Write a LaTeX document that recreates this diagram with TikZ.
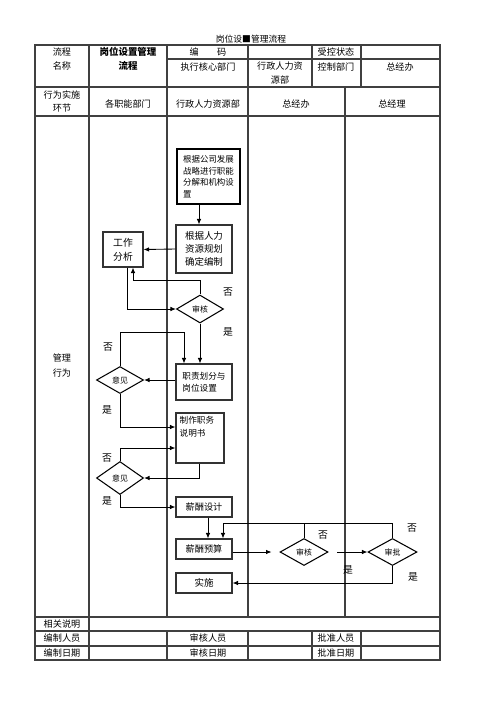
\documentclass[tikz,border=0pt]{standalone}
\usepackage{fontspec}
\setmainfont{Noto Sans CJK SC}
\usetikzlibrary{positioning,arrows.meta,shapes.geometric,calc}
\tikzset{
  gridline/.style={line width=0.6pt, black!75},
  flowline/.style={line width=0.5pt},
  flowarrow/.style={-{Latex[length=1.1mm,width=0.9mm]}, line width=0.5pt},
  procbox/.style={draw, line width=0.6pt, black!80, text=black, inner sep=1pt, align=center, minimum width=1.12cm, font=\fontsize{5.2}{7}\selectfont},
  keybox/.style={procbox, line width=1.6pt, black, align=left, font=\fontsize{4.8}{6.6}\selectfont},
  decnode/.style={draw, diamond, line width=0.6pt, inner sep=0pt, minimum width=0.94cm, minimum height=0.54cm, font=\fontsize{4.5}{5}\selectfont},
  tabtext/.style={inner sep=0pt, align=center, font=\fontsize{5.2}{8}\selectfont},
  yesno/.style={inner sep=0pt, font=\fontsize{5.6}{6}\selectfont}
}
\begin{document}
\begin{tikzpicture}[x=0.02cm, y=-0.02cm]
  \useasboundingbox (0,0) rectangle (500,707);
  % table frame
  \draw[gridline] (35,45) rectangle (440,660);
  \draw[gridline] (167,59) -- (440,59);
  \foreach \y in {87,116,617,631,646} \draw[gridline] (35,\y) -- (440,\y);
  \draw[gridline] (89,45) -- (89,660);
  \foreach \x in {167,248} {\draw[gridline] (\x,45) -- (\x,617); \draw[gridline] (\x,631) -- (\x,660);}
  \foreach \x in {312,361} {\draw[gridline] (\x,45) -- (\x,87); \draw[gridline] (\x,631) -- (\x,660);}
  \draw[gridline] (345,87) -- (345,617);
  % table texts
  \node[tabtext, font=\fontsize{5}{6}\selectfont] (title) at (251,39) {岗位设■管理流程};
  \node[tabtext] (lcmc) at (62,59) {流程\\名称};
  \node[tabtext, font=\bfseries\fontsize{5.4}{8}\selectfont] (lcname) at (128,59) {岗位设置管理\\流程};
  \node[tabtext] (bm) at (208,52) {编\hspace{2em}码};
  \node[tabtext] (skzt) at (336,52) {受控状态};
  \node[tabtext] (zxbm) at (208,67) {执行核心部门};
  \node[tabtext] (xzrl) at (280,73) {行政人力资\\源部};
  \node[tabtext] (kzbm) at (336,67) {控制部门};
  \node[tabtext] (zjb1) at (400,67) {总经办};
  \node[tabtext, font=\fontsize{5.2}{7}\selectfont] (xwss) at (62,101.5) {行为实施\\环节};
  \node[tabtext] (gznbm) at (128,104) {各职能部门};
  \node[tabtext] (xzrlb) at (208,104) {行政人力资源部};
  \node[tabtext] (zjb2) at (296,104) {总经办};
  \node[tabtext] (zjl) at (392,104) {总经理};
  \node[tabtext] (glxw) at (62,365.5) {管理\\行为};
  \node[tabtext] (xgsm) at (62,624) {相关说明};
  \node[tabtext] (bzry) at (62,638.5) {编制人员};
  \node[tabtext] (shry) at (208,638.5) {审核人员};
  \node[tabtext] (pzry) at (336,638.5) {批准人员};
  \node[tabtext] (bzrq) at (62,653) {编制日期};
  \node[tabtext] (shrq) at (208,653) {审核日期};
  \node[tabtext] (pzrq) at (336,653) {批准日期};
  % flow nodes
  \node[keybox, minimum width=1.26cm, minimum height=1.1cm] (fz) at (208.5,176.5) {根据公司发展\\战略进行职能\\分解和机构设\\置};
  \node[procbox, minimum height=0.96cm, font=\fontsize{5.4}{7.2}\selectfont] (bz) at (204,249) {根据人力\\资源规划\\确定编制};
  \node[procbox, minimum width=0.8cm, minimum height=0.7cm, font=\fontsize{5.6}{8}\selectfont] (gz) at (123,249.5) {工作\\分析};
  \node[decnode, minimum height=0.56cm] (sh1) at (200,309) {审核};
  \node[procbox, minimum height=0.72cm, align=left, font=\fontsize{4.9}{7}\selectfont] (zz) at (204,382) {职责划分与\\岗位设置};
  \node[decnode] (yj1) at (120,380) {意见};
  \node[procbox, minimum width=0.96cm, minimum height=1.0cm,
        label={[anchor=north west, align=left, inner sep=2.2pt, font=\fontsize{4.9}{7}\selectfont]north west:{制作职务\\说明书}}] (zm) at (200,438) {};
  \node[decnode, minimum height=0.66cm] (yj2) at (120,478) {意见};
  \node[procbox, minimum height=0.4cm] (xs) at (204,507) {薪酬设计};
  \node[procbox, minimum height=0.4cm] (xy) at (204,549) {薪酬预算};
  \node[procbox, minimum height=0.4cm, font=\fontsize{5.4}{7}\selectfont] (ss) at (204,583) {实施};
  \node[decnode, minimum width=0.96cm] (sh2) at (304,552) {审核};
  \node[decnode, minimum width=0.98cm] (sp) at (392.5,552) {审批};
  % connectors
  \draw[flowarrow] ($(fz.south)+(-9.5,0)$) -- ($(bz.north)+(-5,0)$);
  \draw[flowarrow] (bz.west) -- (gz.east);
  \draw[flowarrow] (sh1.north) -- ++(0,-14) -| ($(gz.south)+(10,0)$);
  \draw[flowarrow] ($(gz.south)+(4,0)$) |- (sh1.west);
  \draw[flowarrow] (sh1.south) -- (sh1.south |- zz.north);
  \draw[flowarrow] (yj1.north) -- ++(0,-34) -| ($(zz.north)+(-20,0)$);
  \draw[flowarrow] (zz.west |- yj1.east) -- (yj1.east);
  \draw[flowarrow] (yj1.south) |- ($(zm.west)+(0,-11)$);
  \draw[flowarrow] (yj2.north) |- ($(zm.west)+(0,10)$);
  \draw[flowarrow] ($(zm.south)+(-1,0)$) |- (yj2.east);
  \draw[flowarrow] (yj2.south) |- (xs.west);
  \draw[flowarrow] ($(xs.south)+(4,0)$) -- ($(xy.north)+(4,0)$);
  \draw[flowarrow] (sp.north) -- ++(0,-15) -| ($(xy.north)+(19,0)$);
  \draw[flowline] (sh2.north) -- ++(0,-15);
  \draw[flowarrow, shorten >=4.5pt] (sh2.west -| xy.east) -- (sh2.west);
  \draw[flowarrow, shorten <=5pt] (sh2.east) -- (sp.west);
  \draw[flowarrow] (sp.south) |- (ss.east);
  % yes / no marks
  \node[yesno] (n1) at (228,292) {否};
  \node[yesno] (y1) at (228,332) {是};
  \node[yesno] (n2) at (108,347) {否};
  \node[yesno] (y2) at (107,410) {是};
  \node[yesno] (n3) at (107,458) {否};
  \node[yesno] (y3) at (107,501) {是};
  \node[yesno] (n4) at (323,535) {否};
  \node[yesno] (y4) at (348,570) {是};
  \node[yesno] (n5) at (412,528) {否};
  \node[yesno] (y5) at (413,577) {是};
\end{tikzpicture}
\end{document}
